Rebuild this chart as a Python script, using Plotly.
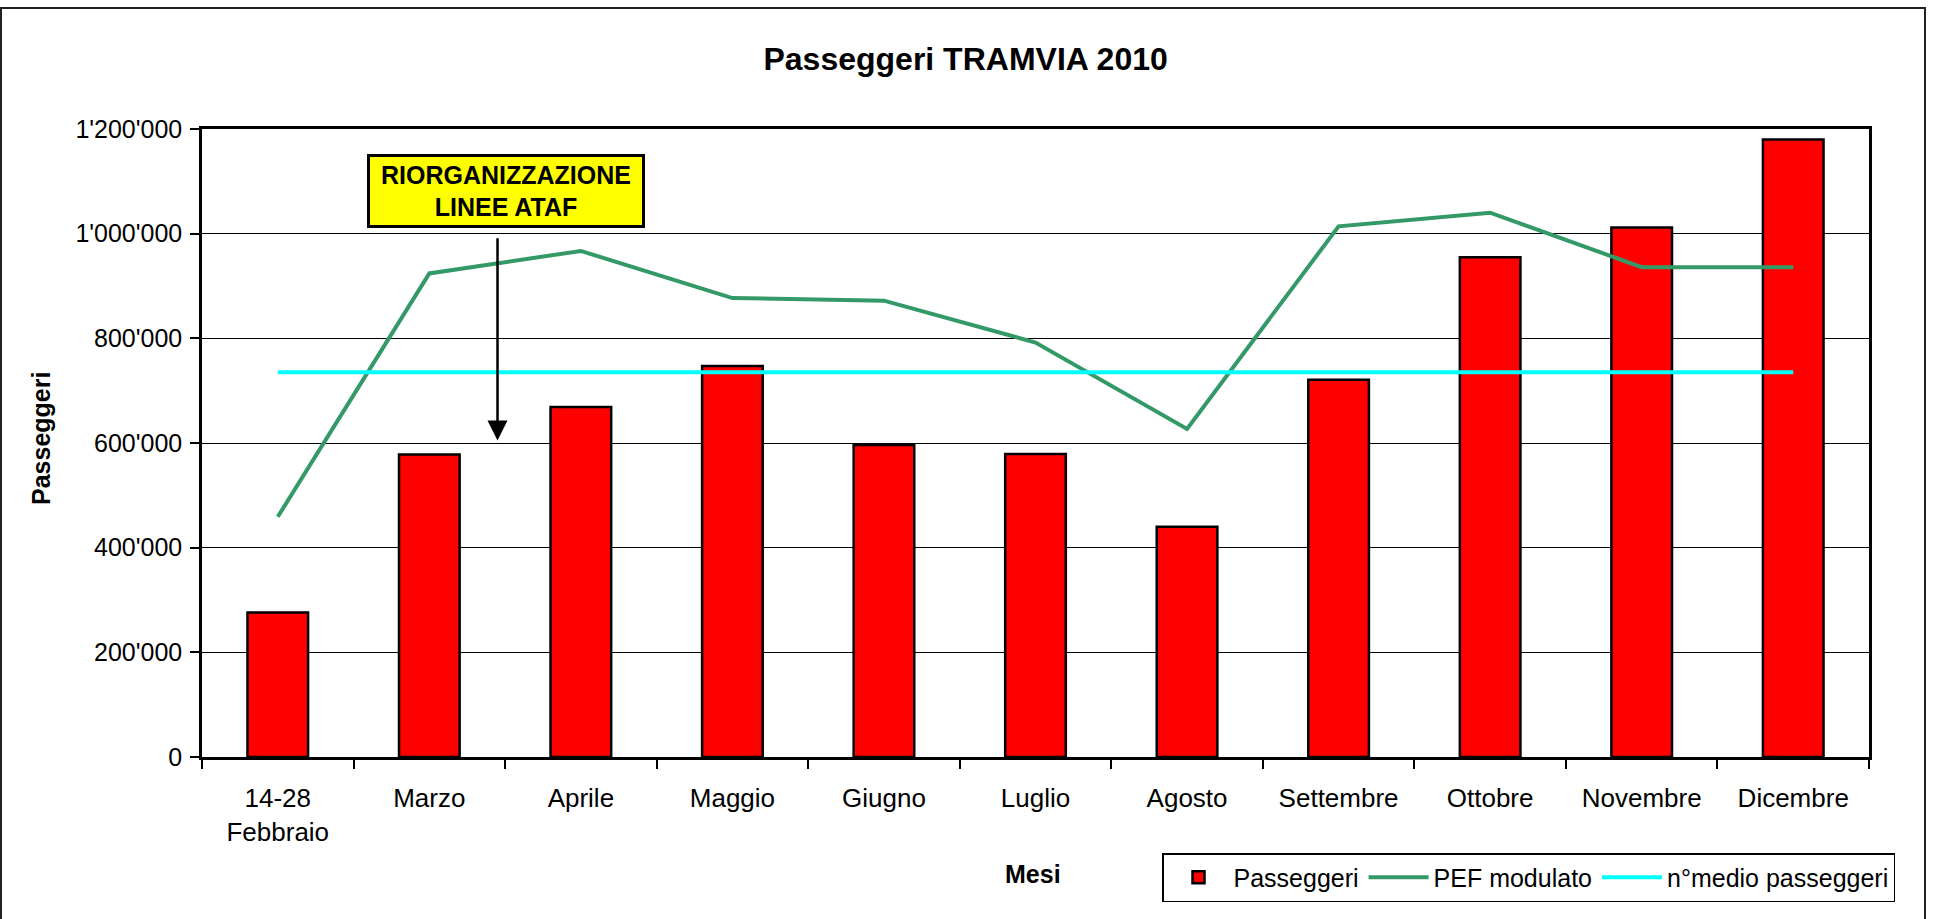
import plotly.graph_objects as go

categories = ["14-28<br>Febbraio", "Marzo", "Aprile", "Maggio", "Giugno", "Luglio",
              "Agosto", "Settembre", "Ottobre", "Novembre", "Dicembre"]
passeggeri = [276000, 578000, 669000, 747000, 596000, 579000, 440000, 721000, 955000, 1012000, 1180000]
pef_modulato = [459000, 924000, 967000, 877000, 872000, 792000, 627000, 1014000, 1040000, 936000, 936000]
media_passeggeri = [735000, 735000, 735000, 735000, 735000, 735000, 735000, 735000, 735000, 735000, 735000]
y_ticks = [0, 200000, 400000, 600000, 800000, 1000000, 1200000]

FONT = "Liberation Sans, Arial, sans-serif"

fig = go.Figure()
fig.add_trace(go.Bar(
    x=categories, y=passeggeri, name="Passeggeri", width=0.4,
    marker=dict(color="#FF0000", line=dict(color="black", width=2.5)),
))
fig.add_trace(go.Scatter(
    x=categories, y=pef_modulato, name="PEF modulato", mode="lines",
    line=dict(color="#339966", width=4),
))
fig.add_trace(go.Scatter(
    x=categories, y=media_passeggeri, name="n°medio passeggeri", mode="lines",
    line=dict(color="#00FFFF", width=4),
))

W, H = 1939, 919
L, R, T, B = 202, 1869, 129, 757
pw, ph = R - L, B - T

def px(x):
    return (x - L) / pw

def py(y):
    return (B - y) / ph

fig.update_layout(
    width=W, height=H,
    margin=dict(l=L, r=W - R, t=T, b=H - B),
    paper_bgcolor="white", plot_bgcolor="white",
    separators=".'",
    font=dict(family=FONT, size=25, color="black"),
    title=dict(text="<b>Passeggeri TRAMVIA 2010</b>", x=0.498, xref="container",
               y=1 - 59 / H, yref="container", yanchor="middle", xanchor="center",
               font=dict(size=32, family=FONT, color="black")),
    showlegend=True,
    legend=dict(orientation="h", x=px(1162), y=py(853), xanchor="left", yanchor="top",
                bordercolor="black", borderwidth=1.5, bgcolor="white",
                font=dict(size=25, family=FONT), itemwidth=60, tracegroupgap=0),
    bargap=0.6,
)
fig.update_xaxes(
    type="category", showgrid=False, showline=True, linecolor="black", linewidth=2.5,
    mirror=True, ticks="outside", tickson="boundaries", ticklen=9, tickcolor="black",
    tickwidth=1.5, tickfont=dict(size=26, family=FONT), ticklabelstandoff=16,
)
fig.update_yaxes(
    range=[0, 1200000], tickvals=y_ticks, tickformat=",d", showgrid=True,
    gridcolor="black", gridwidth=1, showline=True, linecolor="black", linewidth=2.5,
    mirror=True, ticks="outside", ticklen=9, tickcolor="black", tickwidth=1.5,
    tickfont=dict(size=25, family=FONT), ticklabelstandoff=3, zeroline=False,
)

# axis titles
fig.add_annotation(text="<b>Mesi</b>", xref="paper", yref="paper", x=px(1033), y=py(874),
                   showarrow=False, xanchor="center", yanchor="middle",
                   font=dict(size=25, family=FONT))
fig.add_annotation(text="<b>Passeggeri</b>", xref="paper", yref="paper", x=px(41), y=py(439),
                   showarrow=False, textangle=-90, xanchor="center", yanchor="middle",
                   font=dict(size=25, family=FONT))

# annotation box
fig.add_annotation(text="<b>RIORGANIZZAZIONE<br>LINEE ATAF</b>", xref="paper", yref="paper",
                   x=px(506), y=py(191), showarrow=False, xanchor="center", yanchor="middle",
                   bgcolor="#FFFF00", bordercolor="black", borderwidth=3, borderpad=2,
                   width=268, height=64,
                   font=dict(size=25, family=FONT, color="black"))
# arrow
fig.add_annotation(x=1.45, y=605000, ax=1.45, ay=994000, xref="x", yref="y",
                   axref="x", ayref="y", text="", showarrow=True,
                   arrowhead=2, arrowsize=1.6, arrowwidth=2.5, arrowcolor="black")

# outer chart border
fig.add_shape(type="rect", xref="paper", yref="paper",
              x0=px(1), x1=px(1925), y0=py(930), y1=py(8),
              line=dict(color="#222", width=2), fillcolor="rgba(0,0,0,0)", layer="below")

fig.write_html("out.html", config={"displayModeBar": False},
               post_script="document.body.style.margin='0';document.body.style.overflow='hidden';")
